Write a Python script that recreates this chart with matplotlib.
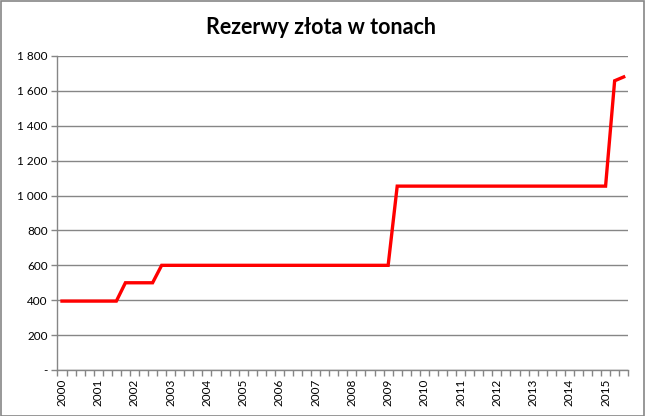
import matplotlib.pyplot as plt
from matplotlib.patches import Rectangle
from matplotlib.ticker import FuncFormatter, FixedLocator

plt.rcParams['font.family'] = ['Lato', 'DejaVu Sans']

# kwartaly 2000 Q1 - 2015 Q3
lata = ['2000', '2001', '2002', '2003', '2004', '2005', '2006', '2007',
        '2008', '2009', '2010', '2011', '2012', '2013', '2014', '2015']
kwartaly = [f"{r} Q{q}" for r in lata for q in range(1, 5)][:63]

rezerwy = [
    395, 395, 395, 395, 395, 395, 395, 500,      # 2000-2001
    500, 500, 500, 600,                          # 2002
    600, 600, 600, 600,                          # 2003
    600, 600, 600, 600,                          # 2004
    600, 600, 600, 600,                          # 2005
    600, 600, 600, 600,                          # 2006
    600, 600, 600, 600,                          # 2007
    600, 600, 600, 600,                          # 2008
    600, 1054, 1054, 1054,                       # 2009
    1054, 1054, 1054, 1054,                      # 2010
    1054, 1054, 1054, 1054,                      # 2011
    1054, 1054, 1054, 1054,                      # 2012
    1054, 1054, 1054, 1054,                      # 2013
    1054, 1054, 1054, 1054,                      # 2014
    1054, 1658, 1680,                            # 2015
]

szary = '#868686'

fig = plt.figure(figsize=(6.45, 4.16), dpi=100)
ax = fig.add_axes([0.0891, 0.1106, 0.974 - 0.0891, 0.8654 - 0.1106])

x = list(range(len(kwartaly)))
ax.plot(x, rezerwy, color='#FF0000', linewidth=2.4, solid_joinstyle='miter')

ax.set_xlim(-0.5, len(kwartaly) - 0.5)
ax.set_ylim(0, 1800)
ax.set_yticks(range(0, 1801, 200))
ax.yaxis.set_major_formatter(FuncFormatter(
    lambda v, p: '-' if v == 0 else f'{int(v):,}'.replace(',', ' ')))
ax.grid(axis='y', color=szary, linewidth=1)
ax.set_axisbelow(True)

etykiety_x = [i for i, k in enumerate(kwartaly) if k.endswith('Q1')]
ax.set_xticks(etykiety_x)
ax.set_xticklabels([kwartaly[i][:4] for i in etykiety_x], rotation=90)
ax.xaxis.set_minor_locator(FixedLocator([i - 0.5 for i in range(len(kwartaly) + 1)]))
ax.tick_params(axis='x', which='major', length=0, pad=6, labelsize=8.5)
ax.tick_params(axis='x', which='minor', length=4, width=1, color=szary, direction='out')
ax.tick_params(axis='y', length=4, width=1, color=szary, pad=3, labelsize=8.5)

for s in ['top', 'right']:
    ax.spines[s].set_visible(False)
for s in ['left', 'bottom']:
    ax.spines[s].set_color(szary)
    ax.spines[s].set_linewidth(1)

fig.text(0.497, 0.935, 'Rezerwy złota w tonach', ha='center', va='center',
         fontsize=15.5, fontweight='bold')

fig.patches.append(Rectangle((0.001, 0.001), 0.997, 0.997, transform=fig.transFigure,
                             fill=False, edgecolor=szary, linewidth=1.2))

plt.savefig('out.png', dpi=100)
